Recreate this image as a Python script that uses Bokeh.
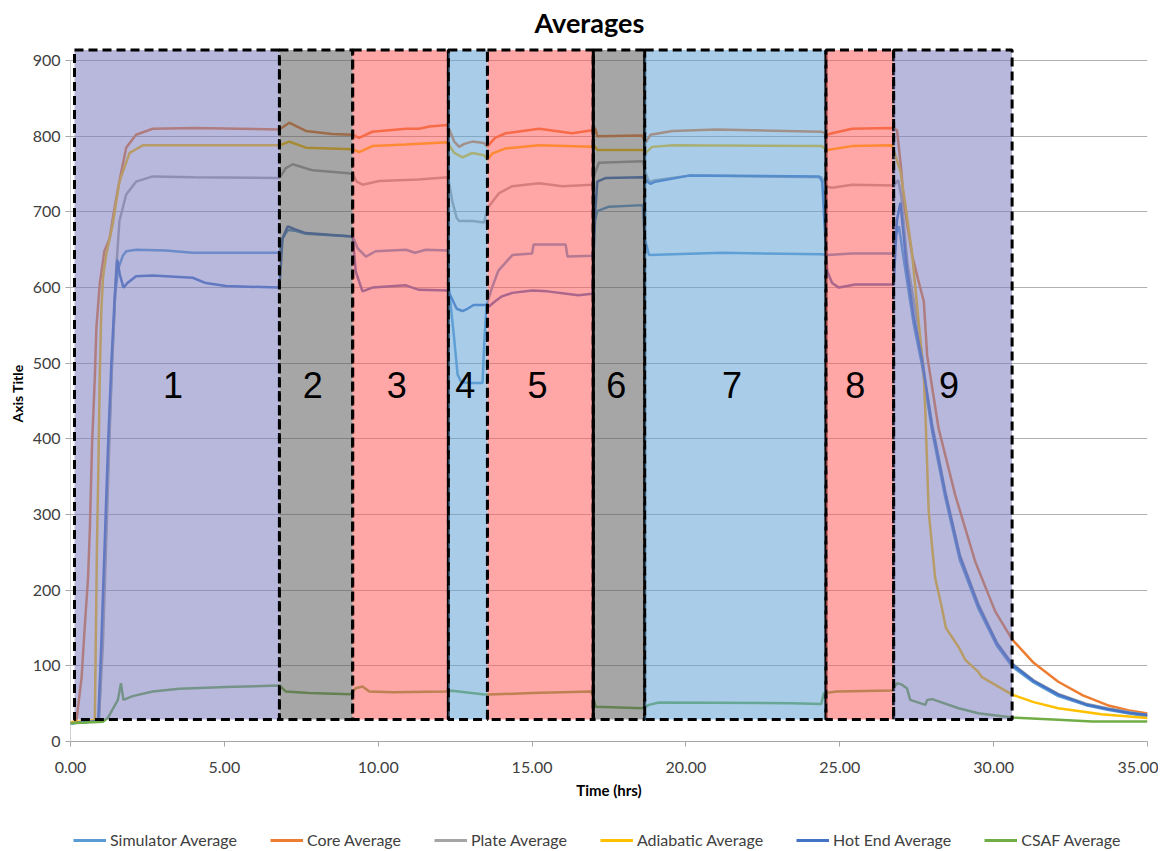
from bokeh.plotting import figure
from bokeh.layouts import column
from bokeh.models import Legend, LegendItem, FixedTicker, NumeralTickFormatter, ColumnDataSource
from bokeh.embed import file_html
from bokeh.resources import INLINE
from bokeh.core.properties import value

# ---------------- data ----------------
sim_t = [0, 0.92, 1.02, 1.13, 1.24, 1.35, 1.45, 1.55, 1.7, 1.81, 2.13, 3.1, 3.97, 6.79, 6.89, 7.06, 7.3, 7.65, 9.05, 9.17,
         9.33, 9.6, 9.92, 10.9, 11.2, 11.55, 12.27, 12.3, 12.45, 12.58, 12.7, 13.0, 13.39, 13.45, 13.52, 13.7, 13.9, 14.36,
         15.0, 15.05, 16.09, 16.15, 16.96, 17.05, 17.12, 17.5, 18.6, 18.66, 18.8, 21.18, 24.42, 24.59, 25.4, 26.75,
         26.83, 26.92, 27.18, 27.4, 27.67, 28.0, 28.43, 28.9, 29.5, 30.1, 30.6, 31.3, 32.1, 33.0, 33.7, 34.4, 35.0]
sim_v = [24, 27, 125, 255, 388, 500, 590, 625, 642, 648, 650, 649, 646, 646, 665, 676, 675, 671, 668, 668,
         652, 641, 648, 650, 646, 650, 649, 598, 540, 485, 475, 474, 474, 530, 577, 600, 622, 643,
         645, 657, 657, 641, 642, 690, 701, 707, 709, 665, 643, 646, 644, 643, 645, 645,
         670, 681, 610, 552, 498, 410, 322, 240, 176, 127, 99, 78, 60, 48, 42, 37, 33]

core_t = [0, 0.19, 0.36, 0.46, 0.57, 0.63, 0.70, 0.79, 0.84, 0.95, 1.10, 1.27, 1.45, 1.59, 1.81, 2.13, 2.67, 4.0, 5.5,
          6.79, 7.0, 7.11, 7.3, 7.65, 8.5, 9.17, 9.38, 9.81, 10.9, 11.33, 11.66, 12.25, 12.35, 12.47, 12.63, 12.8,
          13.06, 13.44, 13.55, 13.62, 13.8, 14.14, 15.23, 16.3, 16.96, 17.05, 17.12, 18.58, 18.69, 18.85, 19.56,
          21.0, 24.42, 24.59, 24.75, 25.4, 26.7, 26.86, 27.0, 27.08, 27.35, 27.55, 27.73, 27.84, 28.21, 28.75,
          29.4, 30.05, 30.6, 31.3, 32.1, 32.9, 33.7, 34.4, 35.0]
core_v = [25, 27, 84, 150, 216, 282, 392, 480, 546, 605, 648, 665, 710, 741, 785, 802, 810, 811, 810,
          809, 815, 818, 814, 807, 803, 802, 798, 806, 810, 810, 813, 815, 805, 793, 786, 790,
          793, 791, 786, 790, 798, 804, 810, 804, 808, 811, 800, 801, 792, 802, 807,
          809, 806, 802, 804, 810, 811, 808, 755, 712, 643, 610, 582, 510, 414, 326,
          238, 172, 135, 104, 79, 61, 48, 41, 37]

plate_t = [0, 0.92, 1.05, 1.15, 1.25, 1.35, 1.42, 1.48, 1.59, 1.81, 2.13, 2.67, 4.0, 6.79, 7.0, 7.22, 7.87, 9.05,
           9.17, 9.3, 9.49, 10.03, 11.3, 12.27, 12.41, 12.55, 12.63, 13.06, 13.44, 13.55, 13.93, 14.36, 15.23,
           15.98, 16.96, 17.05, 17.17, 18.6, 18.68, 18.8, 19.0, 20.1, 24.4, 24.5, 24.6, 24.75, 25.4, 26.75, 26.9,
           27.0, 27.2, 27.56, 27.8, 28.0, 28.43, 28.9, 29.5, 30.1, 30.6, 31.3, 32.1, 33.0, 33.7, 34.4, 35.0]
plate_v = [24, 27, 125, 250, 380, 500, 560, 621, 688, 723, 740, 747, 746, 745, 758, 763, 755, 751,
           750, 740, 736, 741, 743, 746, 714, 692, 688, 688, 686, 705, 725, 734, 738,
           734, 736, 752, 765, 767, 752, 740, 742, 748, 746, 740, 733, 732, 736, 735, 742,
           720, 632, 546, 470, 420, 330, 247, 182, 131, 103, 81, 63, 50, 44, 39, 35]

adia_t = [0, 0.79, 0.82, 0.86, 0.90, 0.95, 1.0, 1.06, 1.16, 1.37, 1.59, 1.92, 2.35, 6.79, 7.11, 7.65, 9.17, 9.38,
          9.81, 10.9, 12.25, 12.47, 12.74, 13.06, 13.44, 13.55, 13.7, 14.14, 15.23, 16.96, 17.0, 17.12, 18.6,
          18.69, 18.9, 19.56, 24.42, 24.59, 25.4, 26.7, 26.97, 27.13, 27.35, 27.55, 27.73, 27.78, 27.89, 28.1,
          28.3, 28.45, 28.86, 29.08, 29.5, 29.62, 30.6, 31.3, 32.1, 33.5, 35.0]
adia_v = [25, 28, 128, 260, 348, 480, 569, 615, 643, 683, 740, 778, 788, 788, 793, 785, 783, 779,
          787, 789, 792, 778, 772, 778, 775, 769, 777, 784, 788, 786, 789, 782, 782,
          778, 786, 788, 787, 782, 787, 788, 754, 710, 645, 560, 485, 436, 304, 216,
          180, 150, 125, 108, 92, 85, 62, 52, 44, 36, 31]

hot_t = [0, 0.9, 1.0, 1.11, 1.22, 1.33, 1.44, 1.52, 1.6, 1.72, 1.85, 2.13, 2.67, 3.97, 4.4, 5.05, 6.79, 6.89, 7.06,
         7.3, 7.65, 9.05, 9.17, 9.27, 9.49, 9.81, 10.9, 11.11, 11.33, 12.27, 12.4, 12.55, 12.74, 12.9, 13.1, 13.5,
         13.6, 13.8, 14.0, 14.36, 15.0, 15.5, 16.5, 16.96, 17.05, 17.12, 17.4, 18.6, 18.75, 18.85, 19.0, 20.1,
         24.33, 24.43, 24.54, 24.59, 24.75, 24.97, 25.5, 26.75, 26.86, 26.97, 27.18, 27.4, 27.67, 28.0, 28.43,
         28.9, 29.5, 30.1, 30.6, 31.3, 32.1, 33.0, 33.7, 34.4, 35.0]
hot_v = [24, 27, 128, 260, 392, 502, 590, 637, 618, 600, 606, 615, 616, 613, 606, 602, 600, 665, 681,
         677, 672, 668, 668, 621, 595, 600, 603, 600, 597, 596, 585, 572, 569, 572, 577, 577,
         575, 582, 588, 593, 596, 595, 590, 592, 700, 740, 745, 746, 740, 737, 740, 748,
         747, 740, 657, 622, 606, 600, 604, 604, 690, 712, 625, 562, 505, 416, 328,
         245, 180, 130, 102, 80, 62, 49, 43, 38, 35]

csaf_t = [0, 1.05, 1.21, 1.54, 1.64, 1.72, 2.02, 2.67, 3.54, 5.05, 6.79, 7.0, 7.76, 9.1, 9.27, 9.49, 9.71, 10.47,
          12.2, 12.4, 13.39, 13.6, 15.0, 16.93, 17.07, 18.58, 18.8, 19.12, 23.45, 24.4, 24.48, 24.9, 26.7, 26.86,
          27.0, 27.18, 27.29, 27.78, 27.84, 28.0, 28.86, 29.5, 30.6, 32.1, 33.2, 35.0]
csaf_v = [24, 26, 31, 55, 77, 55, 60, 66, 69.6, 72, 74, 66, 64, 62.5, 70.5, 72.7, 66, 65,
          66, 67, 62.5, 62, 64, 66, 46, 44, 48.4, 51.5, 50.6, 49.7, 63.9, 66, 67.4, 77,
          75.5, 70.5, 55, 48.4, 55, 56, 44, 37.4, 31.7, 28.6, 26.4, 26.4]

series_names = ["Simulator Average", "Core Average", "Plate Average", "Adiabatic Average", "Hot End Average", "CSAF Average"]
series_colors = ["#5b9bd5", "#ed7d31", "#a5a5a5", "#ffc000", "#4472c4", "#70ad47"]
series_data = [(sim_t, sim_v), (core_t, core_v), (plate_t, plate_v), (adia_t, adia_v), (hot_t, hot_v), (csaf_t, csaf_v)]

# phase boxes
box_left = [0.13, 6.79, 9.17, 12.28, 13.55, 16.99, 18.66, 24.55, 26.75]
box_right = [6.79, 9.17, 12.28, 13.55, 16.99, 18.66, 24.55, 26.75, 30.6]
box_bottom = 29
box_top = 914
box_colors = ["#7c7ebf", "#5d5d5d", "#ff5d5d", "#63a2d5", "#ff5d5d", "#5d5d5d", "#63a2d5", "#ff5d5d", "#7c7ebf"]
box_labels = ["1", "2", "3", "4", "5", "6", "7", "8", "9"]
label_x = [3.33, 7.87, 10.6, 12.83, 15.18, 17.74, 21.5, 25.5, 28.55]
label_y = [471] * 9

y_ticks = [0, 100, 200, 300, 400, 500, 600, 700, 800, 900]
x_ticks = [0, 5, 10, 15, 20, 25, 30, 35]

FONT = "Lato"

p = figure(frame_width=1077, frame_height=696, x_range=(0, 35), y_range=(0, 920),
           output_backend="svg", toolbar_location=None,
           min_border_left=70, min_border_right=11, min_border_top=42, min_border_bottom=20)
p.title.text = "Averages"
p.title.align = "left"
p.title.offset = 464
p.title.standoff = 10
p.title.vertical_align = "top"
p.title.text_font = FONT
p.title.text_font_size = "27px"
p.title.text_font_style = "bold"
p.title.text_color = "#000000"
p.outline_line_color = None

p.xgrid.grid_line_color = None
p.ygrid.grid_line_color = "#b0b0b0"
p.ygrid.ticker = FixedTicker(ticks=y_ticks)

p.yaxis.ticker = FixedTicker(ticks=y_ticks)
p.xaxis.ticker = FixedTicker(ticks=x_ticks)
p.xaxis.formatter = NumeralTickFormatter(format="0.00")
for ax in (p.xaxis, p.yaxis):
    ax.major_label_text_font = FONT
    ax.major_label_text_font_size = "16px"
    ax.major_label_text_color = "#404040"
    ax.axis_label_text_font = FONT
    ax.axis_label_text_font_style = "bold"
    ax.axis_label_text_color = "#000000"
    ax.minor_tick_line_color = None
    ax.major_tick_in = 0
    ax.major_tick_out = 5
    ax.major_tick_line_color = "#a6a6a6"
    ax.axis_line_color = "#a6a6a6"
p.yaxis.axis_line_color = None
p.xaxis.major_label_standoff = 15
p.xaxis.axis_label = "Time (hrs)"
p.xaxis.axis_label_text_font_size = "15px"
p.yaxis.axis_label = "Axis Title"
p.yaxis.axis_label_text_font_size = "14px"
p.xaxis.axis_label_standoff = 5
p.yaxis.axis_label_standoff = 4

# y axis line only up to the top tick
p.segment(x0=[0], y0=[y_ticks[0]], x1=[0], y1=[y_ticks[-1]], line_color="#a6a6a6", line_width=1)

for (t, v), c in zip(series_data, series_colors):
    p.line(t, v, line_color=c, line_width=2.5)

src = ColumnDataSource(dict(left=box_left, right=box_right, color=box_colors,
                            bottom=[box_bottom] * 9, top=[box_top] * 9))
p.quad(left="left", right="right", bottom="bottom", top="top", source=src,
       fill_color="color", fill_alpha=0.55, line_color="black", line_width=3, line_dash="9 5")
# solid edge between box 5 and box 6
p.segment(x0=[box_left[5]], y0=[box_bottom], x1=[box_left[5]], y1=[box_top], line_color="black", line_width=3)

p.text(x=label_x, y=label_y, text=box_labels, text_font=value("Liberation Sans"), text_font_size="36px",
       text_color="black", text_align="center", text_baseline="middle")

# ---- legend strip below the chart (series drawn out of its view, only the legend shows) ----
leg = figure(width=1158, height=48, x_range=(0, 1), y_range=(0, 1), output_backend="svg",
             toolbar_location=None, x_axis_type=None, y_axis_type=None, min_border=0)
leg.outline_line_color = None
leg.grid.visible = False
leg_items = []
for n, (t, v), c in zip(series_names, series_data, series_colors):
    r = leg.line(t, v, line_color=c, line_width=3)
    leg_items.append(LegendItem(label=n, renderers=[r]))
legend = Legend(items=leg_items, orientation="horizontal", location=(3, 0))
legend.label_text_font = FONT
legend.label_text_font_size = "16px"
legend.label_text_color = "#404040"
legend.label_height = 16
legend.glyph_height = 16
legend.glyph_width = 33
legend.label_standoff = 4
legend.spacing = 33
legend.border_line_color = None
legend.background_fill_alpha = 0
legend.margin = 0
legend.padding = 0
leg.add_layout(legend)

layout = column(p, leg, spacing=0)
open("out.html", "w").write(file_html(layout, INLINE))
